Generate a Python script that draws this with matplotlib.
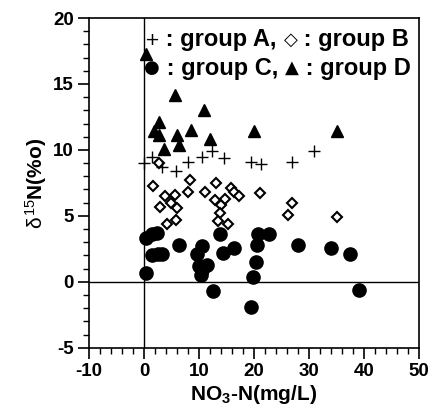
import matplotlib
matplotlib.use("Agg")
import matplotlib.pyplot as plt
from matplotlib.ticker import MultipleLocator

plt.rcParams['font.family'] = ['Liberation Sans', 'DejaVu Sans']
plt.rcParams['axes.unicode_minus'] = False
plt.rcParams['mathtext.fontset'] = 'custom'
plt.rcParams['mathtext.rm'] = 'Liberation Sans'
plt.rcParams['mathtext.it'] = 'Liberation Sans'
plt.rcParams['mathtext.bf'] = 'Liberation Sans:bold'

## dados
# group A (+)
a_x = [0.0, 1.5, 3.3, 5.8, 8.1, 10.6, 12.3, 14.5, 19.4, 21.3, 27.0, 31.0]
a_y = [9.0, 9.5, 8.7, 8.4, 9.1, 9.5, 9.9, 9.4, 9.1, 8.9, 9.1, 9.9]
# group B (diamante)
b_x = [1.7, 2.8, 3.8, 5.6, 3.0, 4.9, 6.1, 4.2, 5.8, 8.4, 8.0, 11.1, 13.1, 12.9, 14.1,
       14.7, 13.8, 13.4, 15.2, 15.9, 16.4, 17.3, 21.1, 26.9, 26.2, 35.1]
b_y = [7.3, 9.0, 6.5, 6.6, 5.7, 6.0, 5.6, 4.4, 4.7, 7.7, 6.8, 6.8, 7.5, 6.2, 5.8,
       6.3, 5.2, 4.6, 4.4, 7.1, 6.8, 6.5, 6.7, 6.0, 5.1, 4.9]
# group C (circulo)
c_x = [0.3, 1.5, 2.4, 1.5, 2.6, 3.3, 0.3, 6.4, 9.7, 10.6, 10.0, 11.5, 10.3, 10.6,
       13.8, 14.3, 16.3, 12.6, 20.5, 20.3, 19.9, 19.4, 20.8, 22.8, 28.0, 34.0, 37.5, 39.2]
c_y = [3.3, 3.6, 3.7, 2.0, 2.1, 2.1, 0.7, 2.8, 2.1, 2.7, 1.2, 1.3, 0.5, 0.9,
       3.6, 2.2, 2.6, -0.7, 2.8, 1.5, 0.4, -1.9, 3.6, 3.6, 2.8, 2.6, 2.1, -0.6]
# group D (triangulo)
d_x = [0.3, 5.6, 10.9, 2.7, 1.9, 2.7, 6.1, 8.5, 6.4, 3.6, 12.1, 20.0, 35.2]
d_y = [17.3, 14.2, 13.0, 12.1, 11.4, 11.1, 11.1, 11.5, 10.4, 10.1, 10.8, 11.4, 11.4]

legend_lines = [
    [('+', 'sym'), (' : group A, ', 'txt'), ('\u25c7', 'sym'), (' : group B', 'txt')],
    [('\u25cf', 'sym'), (' : group C, ', 'txt'), ('\u25b2', 'sym'), (' : group D', 'txt')],
]

fig = plt.figure(figsize=(4.34, 4.19), dpi=100)
ax = fig.add_axes([0.205, 0.17, 0.76, 0.787])

ax.axhline(0, color='black', lw=1, zorder=1)
ax.axvline(0, color='black', lw=1, zorder=1)

ax.plot(c_x, c_y, 'o', color='black', ms=9.5, ls='none', zorder=3)
ax.plot(b_x, b_y, 'D', mfc='white', mec='black', mew=1.5, ms=5.5, ls='none', zorder=4)
ax.plot(a_x, a_y, '+', color='black', mew=1.0, ms=8, ls='none', zorder=5)
ax.plot(d_x, d_y, '^', color='black', ms=8, ls='none', zorder=4)

ax.set_xlim(-10, 50)
ax.set_ylim(-5, 20)
ax.xaxis.set_major_locator(MultipleLocator(10))
ax.xaxis.set_minor_locator(MultipleLocator(2))
ax.yaxis.set_major_locator(MultipleLocator(5))
ax.yaxis.set_minor_locator(MultipleLocator(1))
ax.tick_params(which='major', direction='out', length=8, width=1.2, labelsize=13.5, pad=3)
ax.tick_params(which='minor', direction='out', length=4, width=1)
for lab in ax.get_xticklabels() + ax.get_yticklabels():
    lab.set_fontweight('bold')
for s in ax.spines.values():
    s.set_linewidth(1.2)

ax.set_xlabel(r'NO$_\mathbf{3}$-N(mg/L)', fontsize=15, fontweight='bold', labelpad=2)
ax.set_ylabel(r'$\delta^{15}$N(%o)', fontsize=15, fontweight='bold', labelpad=3)

# legenda em texto, pedaco por pedaco
for line, ypos in zip(legend_lines, [18.35, 16.2]):
    prev = None
    for s, kind in line:
        if kind == 'sym':
            kw = dict(family='DejaVu Sans', fontsize=13, fontweight='normal')
        else:
            kw = dict(family='Liberation Sans', fontsize=17, fontweight='bold')
        if prev is None:
            prev = ax.text(0.1, ypos, s, va='center', ha='left', zorder=6, **kw)
        else:
            prev = ax.annotate(s, xy=(1, 0.5), xycoords=prev, va='center', ha='left',
                               zorder=6, **kw)

fig.savefig('out.png', dpi=100)
